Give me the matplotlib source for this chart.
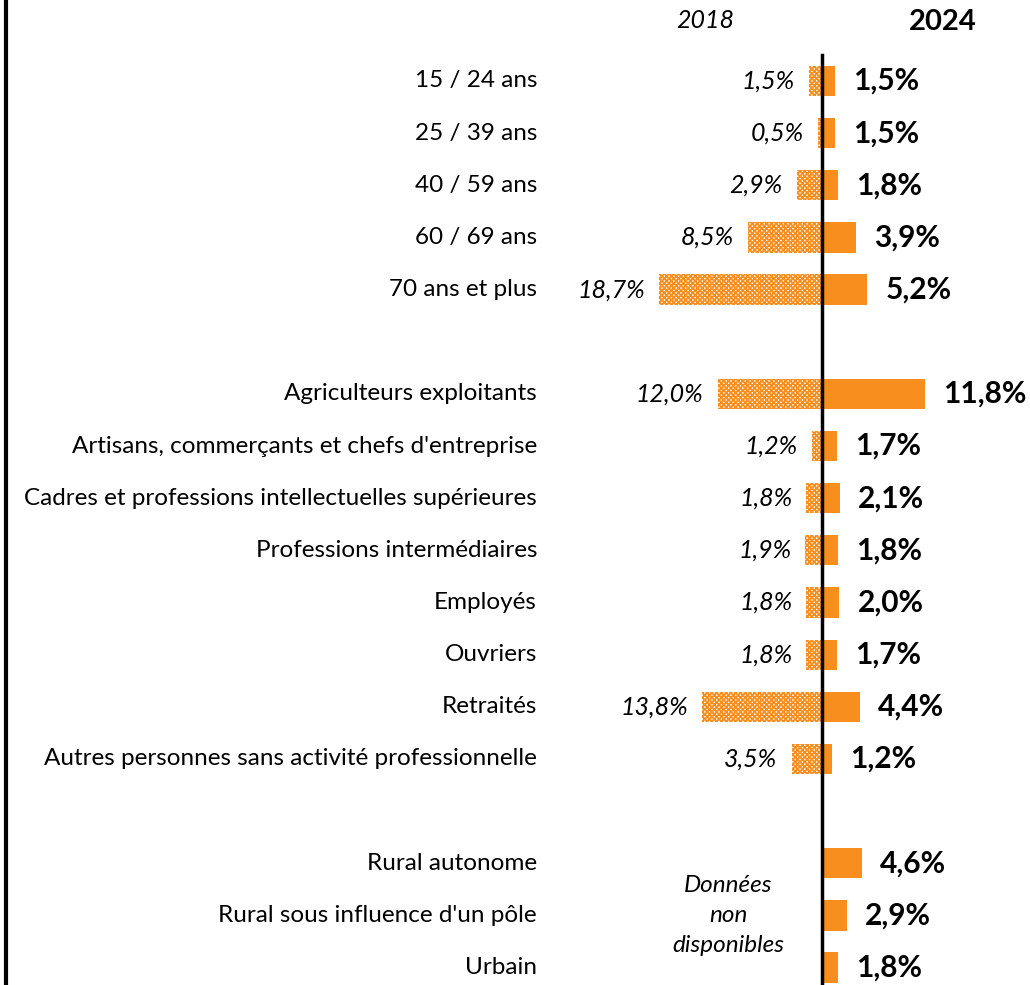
import numpy as np
import matplotlib.pyplot as plt

categories = ["15 / 24 ans", "25 / 39 ans", "40 / 59 ans", "60 / 69 ans", "70 ans et plus",
              "Agriculteurs exploitants", "Artisans, commerçants et chefs d'entreprise",
              "Cadres et professions intellectuelles supérieures", "Professions intermédiaires",
              "Employés", "Ouvriers", "Retraités", "Autres personnes sans activité professionnelle",
              "Rural autonome", "Rural sous influence d'un pôle", "Urbain"]
v2018 = [1.5, 0.5, 2.9, 8.5, 18.7, 12.0, 1.2, 1.8, 1.9, 1.8, 1.8, 13.8, 3.5, None, None, None]
v2024 = [1.5, 1.5, 1.8, 3.9, 5.2, 11.8, 1.7, 2.1, 1.8, 2.0, 1.7, 4.4, 1.2, 4.6, 2.9, 1.8]
rows = [0, 1, 2, 3, 4, 6, 7, 8, 9, 10, 11, 12, 13, 15, 16, 17]

orange = '#F78E1E'
plt.rcParams['font.family'] = ['Lato', 'DejaVu Sans']
plt.rcParams['hatch.linewidth'] = 1.3

fig = plt.figure(figsize=(10.3, 9.85), dpi=100)
ax = fig.add_axes([0, 0, 1, 1])
pxs = 8.7  # pixels per percent
ax.set_xlim(-822 / pxs, (1030 - 822) / pxs)
step = 52.15
ax.set_ylim((985 - 81) / step, -81 / step)
ax.axis('off')

fmt = lambda v: ('%.1f' % v).replace('.', ',') + '%'

for r, cat, a, b in zip(rows, categories, v2018, v2024):
    ax.text(-285 / pxs, r, cat, ha='right', va='center', fontsize=17.5)
    if a is not None:
        ax.barh(r, -a, height=0.58, color='white', edgecolor=orange, hatch='xxxxxxx', lw=0)
        ax.text(-a - 14 / pxs, r, fmt(a), ha='right', va='center', fontsize=18, style='italic')
    ax.barh(r, b, height=0.58, color=orange, lw=0)
    ax.text(b + 18 / pxs, r, fmt(b), ha='left', va='center', fontsize=21.5, fontweight='bold')

ax.plot([0, 0], [-0.5, 17.4], color='black', lw=2.5)
ax.plot([-816 / pxs, -816 / pxs], [-2, 18], color='black', lw=3)

ax.text(-117 / pxs, -61 / step, '2018', ha='center', va='center', fontsize=18, style='italic')
ax.text(121 / pxs, -59 / step, '2024', ha='center', va='center', fontsize=21, fontweight='bold')
ax.text(-94 / pxs, 16, 'Données\nnon\ndisponibles', ha='center', va='center', fontsize=17.5,
        style='italic', linespacing=1.55)

fig.savefig('out.png', dpi=100)
